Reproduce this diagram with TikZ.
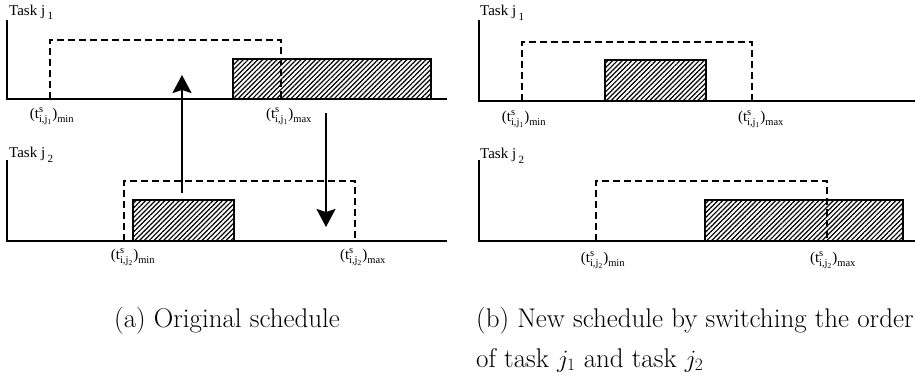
\documentclass[tikz,border=0pt]{standalone}
\usepackage{amsmath}
\usepackage{fontspec}
\newfontfamily\tnr{Liberation Serif}
\usetikzlibrary{arrows.meta,patterns.meta}
\newcommand\trm[1]{\text{\tnr #1}}
\newcommand\tlab[2]{$\trm{(t}^{\trm{s}}_{\trm{i,j}_{\trm{#1}}}\trm{)}_{\trm{#2}}$}
\newcommand\tasklab[1]{Task j\,\raisebox{-5pt}{\fontsize{11}{11}\selectfont #1}}
\begin{document}
\begin{tikzpicture}[x=1pt,y=-1pt,
  axisline/.style={line width=2pt},
  window/.style={line width=2pt, dash pattern=on 7pt off 4pt},
  jobbox/.style={draw, line width=1.8pt, pattern={Lines[angle=45,distance=3.4pt,line width=1.2pt]}},
  movearrow/.style={line width=1.8pt, -{Stealth[length=18pt,width=19pt,inset=3pt]}},
  tasklbl/.style={anchor=base west, inner sep=0pt, font=\tnr\fontsize{15}{15}\selectfont},
  tlbl/.style={inner sep=0pt, font=\fontsize{15}{15}\selectfont},
  captxt/.style={anchor=base west, inner sep=0pt, font=\fontsize{27}{30}\selectfont}]
\useasboundingbox (0,0) rectangle (915,380);
\clip (0,0) rectangle (915,380);

% ---------- panel (a), task j1 ----------
\node[tasklbl] (aT1) at (9,15) {\tasklab{1}};
\draw[axisline] (7,20) -- (7,99) -- (447,99);
\draw[jobbox] (233,59) rectangle (431,99);
\draw[window] (50,99) -- (50,40) -- (281,40) -- (281,99);
\node[tlbl] (aL1min) at (52,116) {\tlab{1}{min}};
\node[tlbl] (aL1max) at (289,116) {\tlab{1}{max}};

% ---------- panel (a), task j2 ----------
\node[tasklbl] (aT2) at (9,157) {\tasklab{2}};
\draw[axisline] (7,160) -- (7,241) -- (447,241);
\draw[jobbox] (133,200) rectangle (234,241);
\draw[window] (124,241) -- (124,181) -- (355,181) -- (355,241);
\node[tlbl] (aL2min) at (133,257) {\tlab{2}{min}};
\node[tlbl] (aL2max) at (363,257) {\tlab{2}{max}};

% arrows
\coordinate (upS) at (182,193);
\coordinate (upE) at (182,75);
\coordinate (dnS) at (326,113);
\coordinate (dnE) at (326,227);
\draw[movearrow] (upS) -- (upE);
\draw[movearrow] (dnS) -- (dnE);

% ---------- panel (b), task j1 ----------
\node[tasklbl] (bT1) at (480,16) {\tasklab{1}};
\draw[axisline] (479,20) -- (479,101) -- (915,101);
\draw[jobbox] (605,60) rectangle (706,101);
\draw[window] (522,101) -- (522,42) -- (752,42) -- (752,101);
\node[tlbl] (bL1min) at (524,119) {\tlab{1}{min}};
\node[tlbl] (bL1max) at (761,119) {\tlab{1}{max}};

% ---------- panel (b), task j2 ----------
\node[tasklbl] (bT2) at (480,158) {\tasklab{2}};
\draw[axisline] (479,160) -- (479,241) -- (915,241);
\draw[jobbox] (705,200) rectangle (903,241);
\draw[window] (596,241) -- (596,181) -- (827,181) -- (827,241);
\node[tlbl] (bL2min) at (603,260) {\tlab{2}{min}};
\node[tlbl] (bL2max) at (833,260) {\tlab{2}{max}};

% ---------- captions ----------
\node[captxt] (capA) at (114,327) {(a) Original schedule};
\node[captxt] (capB1) at (476,327) {(b) New schedule by switching the order};
\node[captxt] (capB2) at (476,367) {of task $j_1$ and task $j_2$};
\end{tikzpicture}
\end{document}
